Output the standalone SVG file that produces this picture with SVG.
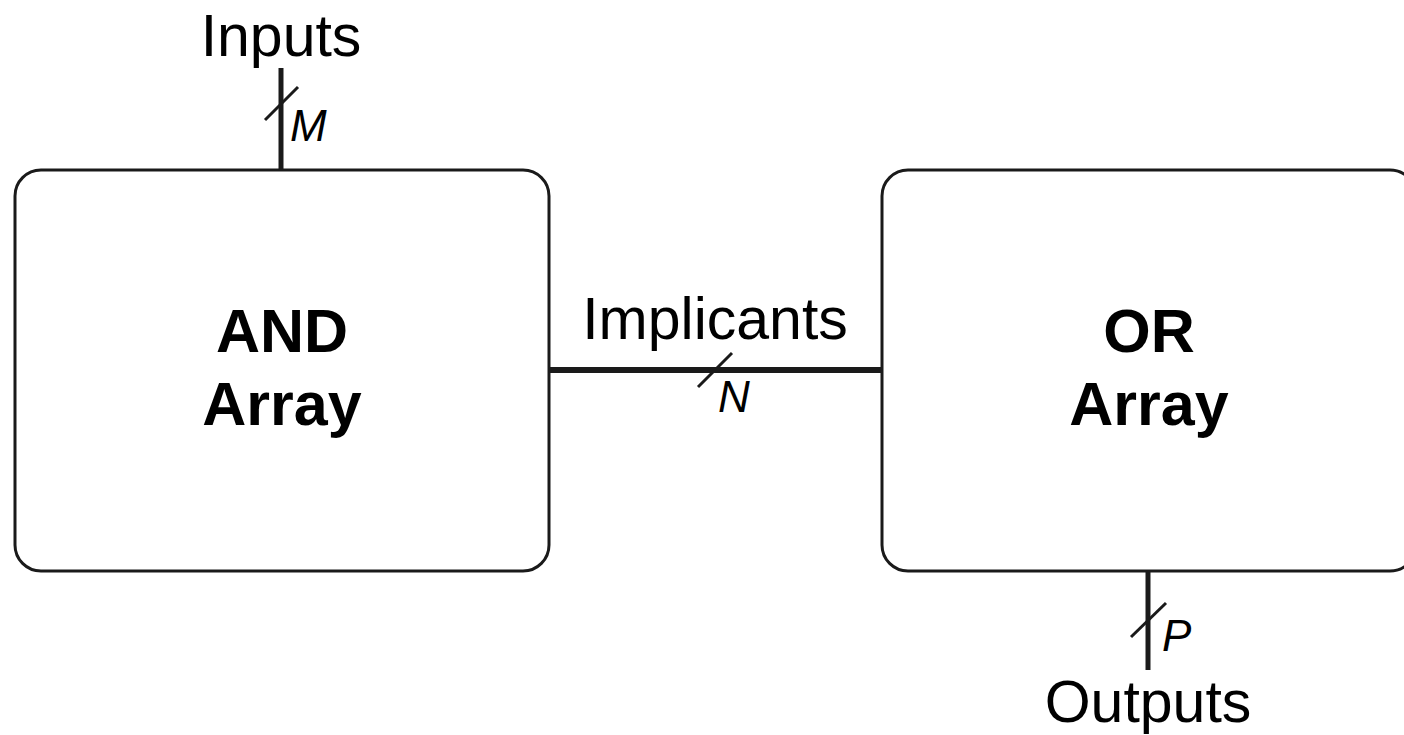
<svg xmlns="http://www.w3.org/2000/svg" width="1404" height="735" viewBox="0 0 1404 735">
<style>
.box{fill:#fff;stroke:#1a1a1a;stroke-width:3}
.bus{stroke:#1a1a1a;stroke-width:5;fill:none}
.sl{stroke:#1a1a1a;stroke-width:3;fill:none}
.t{font-family:"Liberation Sans",Arial,sans-serif;font-size:59px;fill:#000}
.b{font-family:"Liberation Sans",Arial,sans-serif;font-size:61px;font-weight:bold;fill:#000}
.i{font-family:"Liberation Sans",Arial,sans-serif;font-size:44px;font-style:italic;fill:#000}
</style>
<rect width="1404" height="735" fill="#fff"/>
<g id="connectors">
<line class="bus" x1="281" y1="68" x2="281" y2="171"/>
<line class="sl" x1="265" y1="120" x2="298" y2="87"/>
<text class="i" x="290" y="141">M</text>
<line class="bus" x1="547" y1="370" x2="884" y2="370" style="stroke-width:6"/>
<line class="sl" x1="698" y1="387" x2="732" y2="353"/>
<text class="i" x="718" y="412">N</text>
<line class="bus" x1="1148" y1="570" x2="1148" y2="670"/>
<line class="sl" x1="1131" y1="637" x2="1166" y2="603"/>
<text class="i" x="1162" y="651">P</text>
</g>
<g id="inputs"><text class="t" x="281" y="56" text-anchor="middle">Inputs</text></g>
<g id="implicants"><text class="t" x="715" y="339" text-anchor="middle">Implicants</text></g>
<g id="outputs"><text class="t" x="1148" y="722" text-anchor="middle">Outputs</text></g>
<g id="and-array">
<rect class="box" x="15" y="170" width="534" height="401" rx="26"/>
<text class="b" x="282" y="352" text-anchor="middle">AND</text>
<text class="b" x="282" y="425" text-anchor="middle">Array</text>
</g>
<g id="or-array">
<rect class="box" x="882" y="170" width="534" height="401" rx="26"/>
<text class="b" x="1149" y="352" text-anchor="middle">OR</text>
<text class="b" x="1149" y="425" text-anchor="middle">Array</text>
</g>
</svg>
